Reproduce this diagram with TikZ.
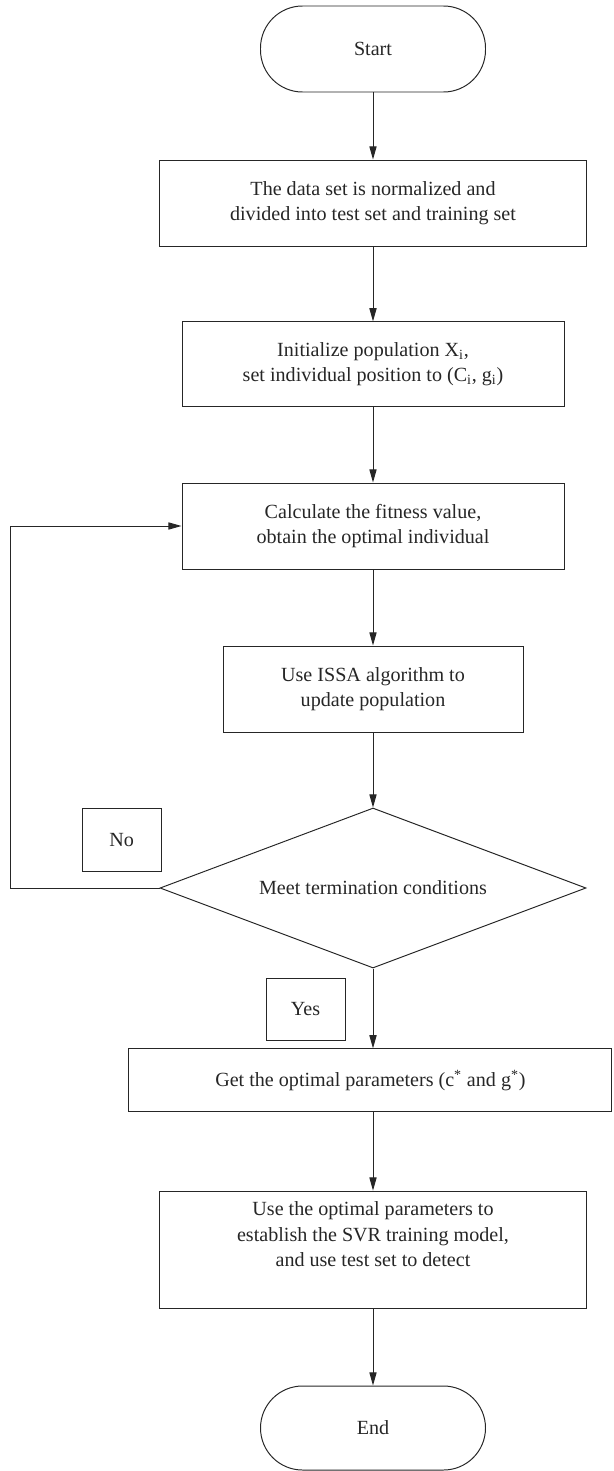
\documentclass[tikz,border=0pt]{standalone}
\usepackage{fontspec}
\setmainfont{Liberation Serif}
\usetikzlibrary{arrows.meta,shapes.geometric}

\begin{document}
\begin{tikzpicture}[
        line width=0.7pt, draw=black!85,
        every node/.style={font=\fontsize{14.3}{18}\selectfont, text=black!85, align=center},
        box/.style={draw=black!85, rectangle, inner sep=0pt},
        terminal/.style={draw=black!85, rectangle, rounded corners=1.05cm, minimum width=5.625cm, inner sep=0pt},
        decision/.style={draw=black!85, diamond, aspect=2.66, inner sep=0pt, minimum width=10.65cm, minimum height=4cm},
        flow/.style={draw=black!85, -{Triangle[length=3.3mm,width=1.8mm]}}
    ]
                \useasboundingbox (0,0) rectangle (15.325,-36.775);

                \node[terminal, minimum height=2.15cm] (start) at (9.325,-1.225) {Start};
                \node[box, minimum width=10.675cm, minimum height=2.15cm] (normalize) at (9.325,-5.075)
                    {The data set is normalized and\\divided into test set and training set};
                \node[box, minimum width=9.55cm, minimum height=2.125cm] (init) at (9.325,-9.11)
                    {Initialize population X\textsubscript{i},\\set individual position to (C\textsubscript{i}, g\textsubscript{i})};
                \node[box, minimum width=9.55cm, minimum height=2.15cm] (fitness) at (9.325,-13.15)
                    {Calculate the fitness value,\\obtain the optimal individual};
                \node[box, minimum width=7.5cm, minimum height=2.15cm] (update) at (9.325,-17.225)
                    {Use ISSA algorithm to\\update population};
                \node[decision] (check) at (9.325,-22.2) {Meet termination conditions};
                \node[box, minimum width=1.975cm, minimum height=1.575cm] (no) at (3.04,-20.99) {No};
                \node[box, minimum width=1.975cm, minimum height=1.55cm] (yes) at (7.64,-25.225) {Yes};
                \node[box, minimum width=12.075cm, minimum height=1.575cm] (optimal) at (9.26,-27.01)
                    {Get the optimal parameters (c\textsuperscript{*} and g\textsuperscript{*})};
                \node[box, minimum width=10.675cm, minimum height=2.925cm] (model) at (9.325,-31.24)
                    {Use the optimal parameters to\\establish the SVR training model,\\and use test set to detect\\[4pt]};
                \node[terminal, minimum height=2.1cm] (stop) at (9.325,-35.7) {End};

                % main flow
                \draw[flow] (start) -- (normalize);
                \draw[flow] (normalize) -- (init);
                \draw[flow] (init) -- (fitness);
                \draw[flow] (fitness) -- (update);
                \draw[flow] (update) -- (check);
                \draw[flow] (check) -- (check |- optimal.north);
                \draw[flow] (check |- optimal.south) -- (model);
                \draw[flow] (model) -- (stop);

                % back to the fitness step
                \coordinate (loopcorner) at (0.25,-22.2);
                \draw[flow] (check.west) -- (loopcorner) |- (fitness.west);
\end{tikzpicture}
\end{document}
